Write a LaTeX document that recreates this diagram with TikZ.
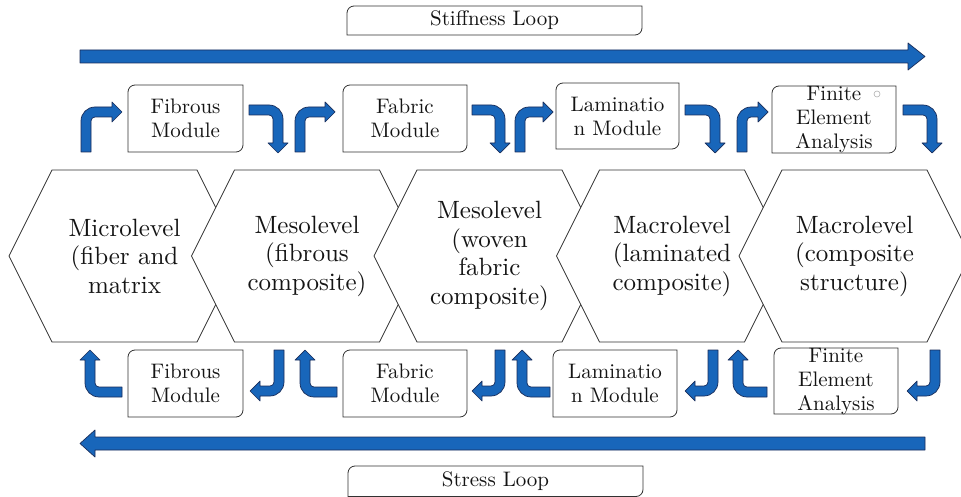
\documentclass[tikz,border=0pt]{standalone}
\usepackage{fontspec}
\setmainfont{lmroman10-regular.otf}
\usetikzlibrary{calc}
\definecolor{arrblue}{RGB}{24,102,186}
\definecolor{arredge}{RGB}{25,45,90}
\definecolor{lineg}{RGB}{50,50,50}
\definecolor{txt}{RGB}{20,20,20}
\tikzset{
 arrstyle/.style={fill=arrblue,draw=arredge,line width=0.7pt,line join=round},
 boxline/.style={draw=lineg,line width=0.8pt,fill=white},
 hexline/.style={draw=lineg,line width=0.8pt,fill=white},
 hextext/.style={align=center,text=txt,font=\fontsize{25}{28.5}\selectfont,inner sep=0pt},
 modtext/.style={align=center,text=txt,font=\fontsize{21}{24}\selectfont,inner sep=0pt},
}
% bent block arrow in local coordinates: first leg along +y (length #1), second leg along +x (length #2)
\newcommand\bentarr[2]{\filldraw[arrstyle] (0,0) -- (10,0) -- (10,#1-14) arc[start angle=180,end angle=90,radius=4] -- (#2-10,#1-10) -- (#2-10,#1-15) -- (#2,#1-5) -- (#2-10,#1+5) -- (#2-10,#1) -- (14,#1) arc[start angle=90,end angle=180,radius=14] -- cycle;}
% box with rounded top-left and bottom-right corners: x1 y1 x2 y2 (pixel coords, y down)
\newcommand\dbox[4]{\draw[boxline] (#1,-#2-7) arc[start angle=180,end angle=90,radius=7] -- (#3,-#2) -- (#3,-#4+7) arc[start angle=0,end angle=-90,radius=7] -- (#1,-#4) -- cycle;}
\newcommand\hexat[1]{\draw[hexline] (#1-43,-256) -- (#1,-170) -- (#1+145,-170) -- (#1+188,-256) -- (#1+145,-342) -- (#1,-342) -- cycle;}
\begin{document}
\begin{tikzpicture}[x=1pt,y=1pt]
\useasboundingbox (0,0) rectangle (961,-497);
\fill[white] (0,0) rectangle (961,-497);
% Stiffness loop
\dbox{347}{6}{642}{35}
\node[modtext] (stiff) at (494.5,-20.5) {Stiffness Loop};
\filldraw[arrstyle] (80,-50) -- (908,-50) -- (908,-43) -- (925,-56.5) -- (908,-70) -- (908,-63) -- (80,-63) -- cycle;
% top modules
\dbox{128}{85}{243}{152}
\node[modtext] (tfib) at (185.5,-118.5) {Fibrous\\Module};
\dbox{343}{85}{467}{152}
\node[modtext] (tfab) at (405,-118.5) {Fabric\\Module};
\dbox{556}{83}{679}{149}
\node[modtext] (tlam) at (617.5,-116) {Laminatio\\n Module};
\dbox{772}{86}{896}{153}
\node[modtext] (tfea) at (834,-120) {Finite\\Element\\Analysis};
\draw[gray!60,line width=0.6pt] (877,-94) circle[radius=3];
% top arrows
\begin{scope}[shift={(81,-152)}]\bentarr{45}{41}\end{scope}
\begin{scope}[shift={(295,-152)}]\bentarr{45}{40}\end{scope}
\begin{scope}[shift={(515,-152)}]\bentarr{45}{38}\end{scope}
\begin{scope}[shift={(737,-152)}]\bentarr{45}{31}\end{scope}
\begin{scope}[shift={(249,-105)},rotate=-90]\bentarr{34}{48}\end{scope}
\begin{scope}[shift={(472,-105)},rotate=-90]\bentarr{33}{48}\end{scope}
\begin{scope}[shift={(685,-105)},rotate=-90]\bentarr{35}{48}\end{scope}
\begin{scope}[shift={(903,-105)},rotate=-90]\bentarr{34}{48}\end{scope}
% hexagons
\hexat{52}
\node[hextext] (h1) at (124.5,-256) {Microlevel\\(fiber and\\matrix};
\hexat{234.5}
\node[hextext] (h2) at (307,-256) {Mesolevel\\(fibrous\\composite)};
\hexat{417}
\node[hextext] (h3) at (489.5,-256) {Mesolevel\\(woven\\fabric\\composite)};
\hexat{599.5}
\node[hextext] (h4) at (672,-256) {Macrolevel\\(laminated\\composite)};
\hexat{782}
\node[hextext] (h5) at (854.5,-256) {Macrolevel\\(composite\\structure)};
% bottom modules
\dbox{128}{350}{243}{417}
\node[modtext] (bfib) at (185.5,-383.5) {Fibrous\\Module};
\dbox{343}{350}{467}{417}
\node[modtext] (bfab) at (405,-383.5) {Fabric\\Module};
\dbox{553}{350}{677}{417}
\node[modtext] (blam) at (615,-383.5) {Laminatio\\n Module};
\dbox{774}{348}{898}{414}
\node[modtext] (bfea) at (836,-382) {Finite\\Element\\Analysis};
% bottom arrows
\begin{scope}[shift={(122,-397)},rotate=90]\bentarr{37}{47}\end{scope}
\begin{scope}[shift={(337,-397)},rotate=90]\bentarr{37}{47}\end{scope}
\begin{scope}[shift={(550,-397)},rotate=90]\bentarr{33}{47}\end{scope}
\begin{scope}[shift={(767,-397)},rotate=90]\bentarr{34}{47}\end{scope}
\begin{scope}[shift={(284,-350)},rotate=180]\bentarr{46}{34}\end{scope}
\begin{scope}[shift={(505,-350)},rotate=180]\bentarr{46}{33}\end{scope}
\begin{scope}[shift={(718,-350)},rotate=180]\bentarr{46}{33}\end{scope}
\begin{scope}[shift={(940,-350)},rotate=180]\bentarr{46}{33}\end{scope}
% Stress loop
\filldraw[arrstyle] (925,-437) -- (95,-437) -- (95,-430) -- (80,-443.5) -- (95,-457) -- (95,-450) -- (925,-450) -- cycle;
\dbox{348}{466}{643}{496.5}
\node[modtext] (stress) at (495.5,-481.5) {Stress Loop};
\end{tikzpicture}
\end{document}
